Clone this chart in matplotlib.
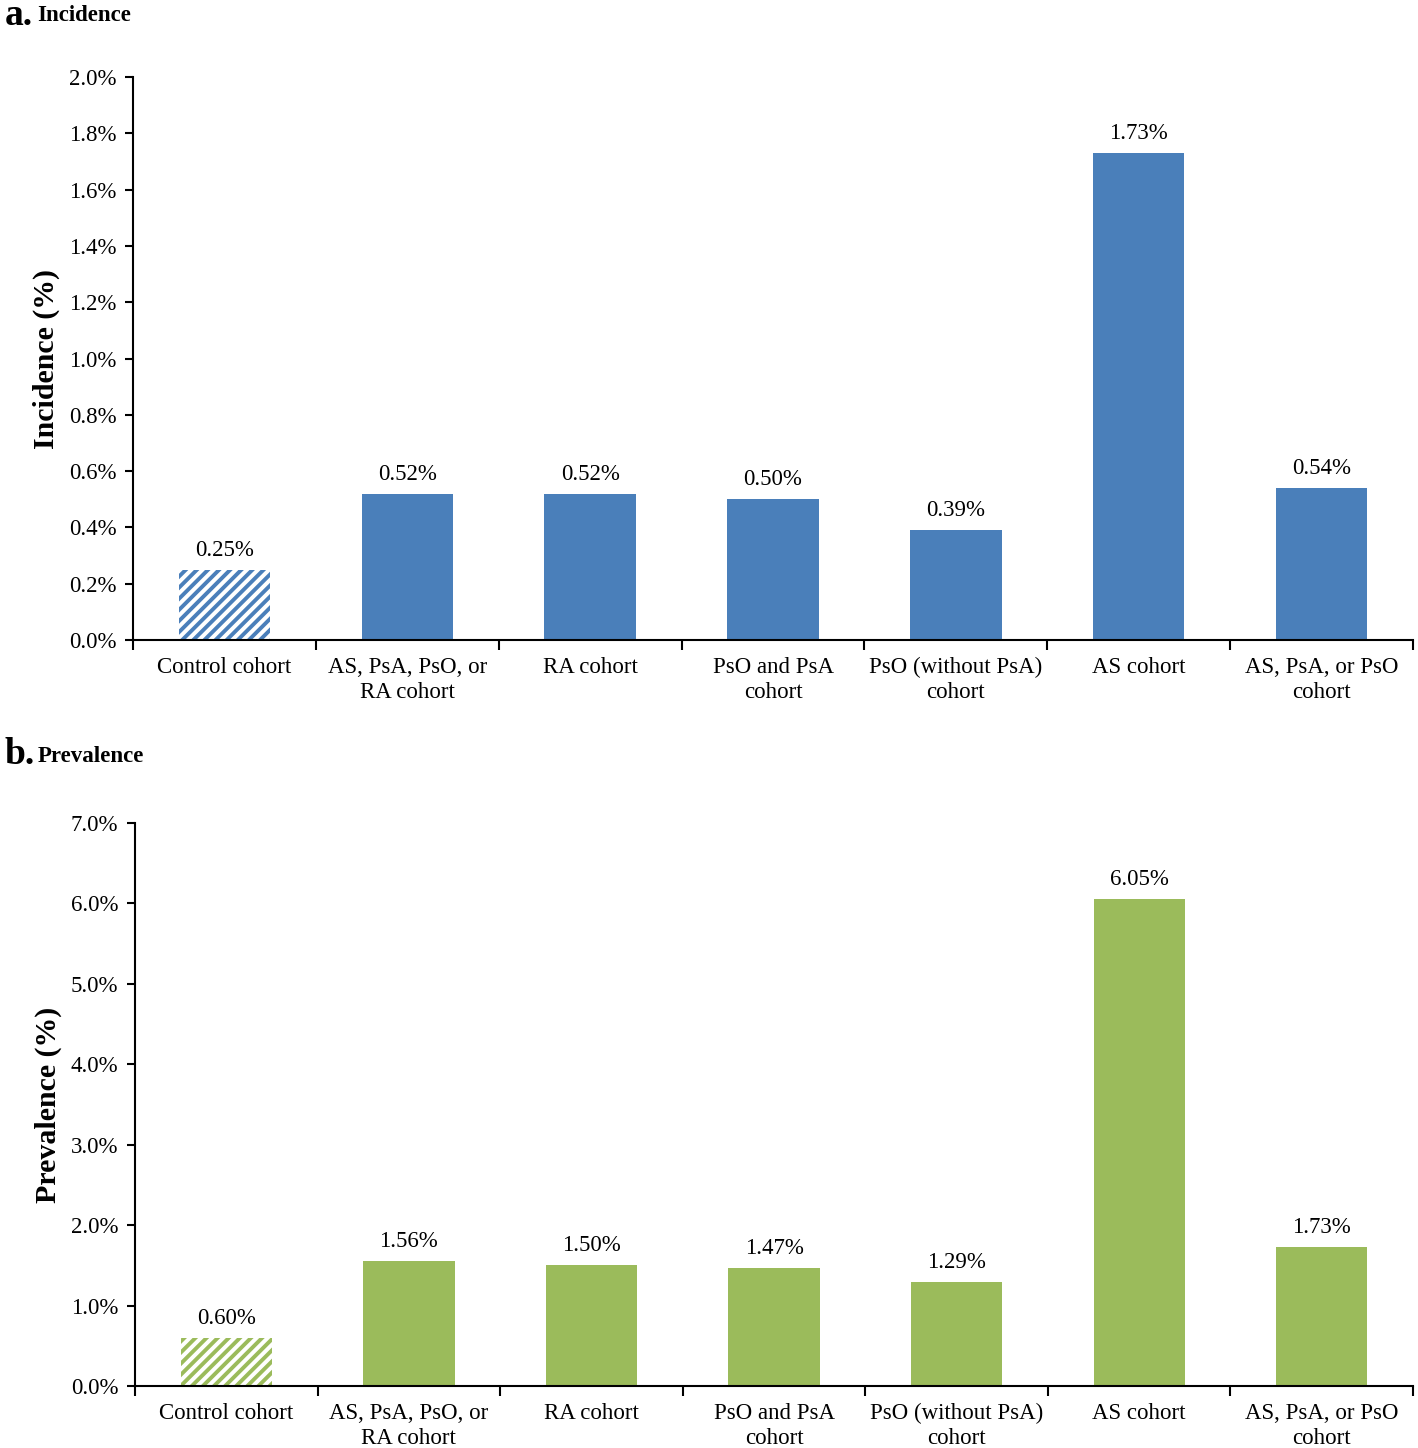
import numpy as np
import matplotlib.pyplot as plt
from matplotlib.ticker import FuncFormatter

plt.rcParams['font.family'] = ['Liberation Serif', 'DejaVu Serif']
plt.rcParams['hatch.linewidth'] = 2.8

categories = ["Control cohort", "AS, PsA, PsO, or\nRA cohort", "RA cohort",
              "PsO and PsA\ncohort", "PsO (without PsA)\ncohort", "AS cohort",
              "AS, PsA, or PsO\ncohort"]
incidence = [0.25, 0.52, 0.52, 0.50, 0.39, 1.73, 0.54]
prevalence = [0.60, 1.56, 1.50, 1.47, 1.29, 6.05, 1.73]

blue = '#4A7FBA'
green = '#9BBB5B'

fig = plt.figure(figsize=(14.18, 14.48), dpi=100)
ax1 = fig.add_axes([0.0938, 0.558, 0.9027, 0.3888])
ax2 = fig.add_axes([0.0952, 0.0428, 0.9013, 0.3888])


def draw(ax, values, color, ymax, step, ylabel):
    x = np.arange(len(values))
    ax.bar(x[1:], values[1:], width=0.5, color=color)
    ax.bar(x[0], values[0], width=0.5, color='white', edgecolor=color,
           hatch='///', linewidth=0)
    for xi, v in zip(x, values):
        ax.text(xi, v + ymax * 0.016, f"{v:.2f}%", ha='center', va='bottom',
                fontsize=16.5)
    ax.set_xlim(-0.5, len(values) - 0.5)
    ax.set_ylim(0, ymax)
    ax.set_yticks(np.arange(0, ymax + step / 2, step))
    ax.yaxis.set_major_formatter(FuncFormatter(lambda v, p: f"{v:.1f}%"))
    ax.set_xticks(x)
    ax.set_xticklabels(categories, fontsize=16.5, linespacing=1.25)
    ax.set_xticks(np.arange(-0.5, len(values)), minor=True)
    ax.tick_params(axis='x', which='major', length=0, pad=12)
    ax.tick_params(axis='x', which='minor', length=7, width=1.5, direction='out')
    ax.tick_params(axis='y', length=6, width=1.5, labelsize=16.5, pad=6)
    for s in ['top', 'right']:
        ax.spines[s].set_visible(False)
    for s in ['left', 'bottom']:
        ax.spines[s].set_linewidth(1.5)
    ax.set_ylabel(ylabel, fontsize=21.5, fontweight='bold', labelpad=6)


draw(ax1, incidence, blue, 2.0, 0.2, "Incidence (%)")
draw(ax2, prevalence, green, 7.0, 1.0, "Prevalence (%)")

fig.text(0.003, 1 - 25 / 1448, "a.", fontsize=27, fontweight='bold', va='baseline')
fig.text(0.026, 1 - 21 / 1448, "Incidence", fontsize=16.5, fontweight='bold',
         va='baseline')
fig.text(0.003, 1 - 764 / 1448, "b.", fontsize=27, fontweight='bold', va='baseline')
fig.text(0.0265, 1 - 762 / 1448, "Prevalence", fontsize=16.5, fontweight='bold',
         va='baseline')

fig.savefig('out.png', dpi=100)
